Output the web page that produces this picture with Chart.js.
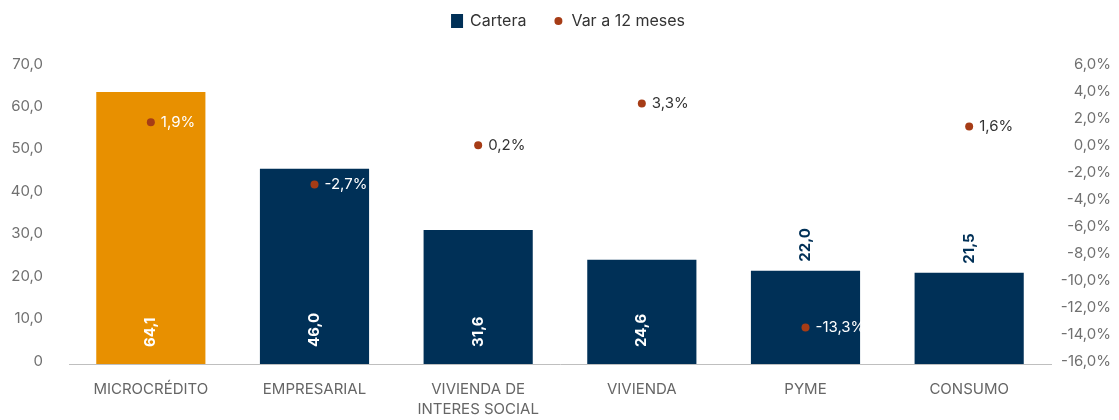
<!DOCTYPE html>
<html>
<head>
<meta charset="utf-8">
<script src="https://cdn.jsdelivr.net/npm/chart.js@4.4.1/dist/chart.umd.min.js"></script>
<style>
html, body { margin: 0; padding: 0; background: #fff; }
</style>
</head>
<body>
<canvas id="carteraChart" width="1119" height="420"></canvas>
<script>
// data
const categories = ["MICROCRÉDITO", "EMPRESARIAL", ["VIVIENDA DE", "INTERES SOCIAL"], "VIVIENDA", "PYME", "CONSUMO"];
const cartera = [64.1, 46.0, 31.6, 24.6, 22.0, 21.5];
const variacion = [1.9, -2.7, 0.2, 3.3, -13.3, 1.6];
const leftTicks = [0, 10, 20, 30, 40, 50, 60, 70];
const rightTicks = [-16, -14, -12, -10, -8, -6, -4, -2, 0, 2, 4, 6];

const NAVY = "#003057";
const ORANGE = "#E89000";
const DOT = "#A63C16";
const FONT = "Inter";

function coma(v, d) {
    return v.toFixed(d).replace(".", ",");
}

/*=========================================
LABELS ON BARS AND DOTS
=========================================*/
const valueLabels = {
    id: "valueLabels",
    afterDatasetsDraw(chart) {
        const ctx = chart.ctx;
        const bars = chart.getDatasetMeta(0).data;
        const dots = chart.getDatasetMeta(1).data;

        ctx.save();
        ctx.font = "bold 15px " + FONT;
        ctx.textBaseline = "middle";
        ctx.textAlign = "left";
        bars.forEach((bar, i) => {
            const inside = (bar.base - bar.y) > 100;
            ctx.save();
            if (inside) {
                ctx.translate(bar.x, bar.base - 17);
                ctx.fillStyle = "#fff";
            } else {
                ctx.translate(bar.x, bar.y - 9);
                ctx.fillStyle = NAVY;
            }
            ctx.rotate(-Math.PI / 2);
            ctx.fillText(coma(cartera[i], 1), 0, 0);
            ctx.restore();
        });

        ctx.font = "15px " + FONT;
        dots.forEach((dot, i) => {
            const onBar = dot.y > bars[i].y;
            ctx.fillStyle = onBar ? "#fff" : "#333";
            ctx.fillText(coma(variacion[i], 1) + "%", dot.x + 10, dot.y);
        });
        ctx.restore();
    }
};

/*=========================================
LEGEND
=========================================*/
const topLegend = {
    id: "topLegend",
    afterDraw(chart) {
        const ctx = chart.ctx;
        const y = 21;
        ctx.save();
        ctx.font = "16px " + FONT;
        ctx.textBaseline = "middle";
        ctx.textAlign = "left";
        const t1 = "Cartera";
        const t2 = "Var a 12 meses";
        const w1 = ctx.measureText(t1).width;
        const w2 = ctx.measureText(t2).width;
        const total = 12 + 7 + w1 + 26 + 12 + 7 + w2;
        let x = 568 - total / 2;

        ctx.fillStyle = NAVY;
        ctx.fillRect(x, y - 7, 12, 14);
        x += 19;
        ctx.fillStyle = "#333";
        ctx.fillText(t1, x, y);
        x += w1 + 26;

        ctx.fillStyle = DOT;
        ctx.beginPath();
        ctx.arc(x + 6, y, 4, 0, Math.PI * 2);
        ctx.fill();
        x += 19;
        ctx.fillStyle = "#333";
        ctx.fillText(t2, x, y);
        ctx.restore();
    }
};

new Chart(document.getElementById("carteraChart"), {
    data: {
        labels: categories,
        datasets: [
            {
                type: "bar",
                label: "Cartera",
                data: cartera,
                backgroundColor: cartera.map((v, i) => i === 0 ? ORANGE : NAVY),
                barPercentage: 0.667,
                categoryPercentage: 1,
                yAxisID: "y",
                order: 1
            },
            {
                type: "line",
                label: "Var a 12 meses",
                data: variacion,
                showLine: false,
                pointRadius: 4,
                pointHoverRadius: 4,
                pointBackgroundColor: DOT,
                pointBorderWidth: 0,
                borderColor: DOT,
                yAxisID: "y1",
                order: 0
            }
        ]
    },
    options: {
        responsive: false,
        animation: false,
        layout: {
            padding: { top: 67, right: 8, bottom: 0, left: 0 }
        },
        plugins: {
            legend: { display: false },
            tooltip: { enabled: false }
        },
        scales: {
            x: {
                grid: { display: false, drawTicks: false },
                border: { display: true, color: "#bfbfbf", width: 1 },
                ticks: {
                    color: "#666",
                    font: { family: FONT, size: 15, lineHeight: 1.3 },
                    padding: 16,
                    maxRotation: 0,
                    autoSkip: false
                },
                afterFit(scale) { scale.height = 56; }
            },
            y: {
                position: "left",
                min: 0,
                max: 70,
                grid: { display: false, drawTicks: false },
                border: { display: false },
                afterBuildTicks(scale) { scale.ticks = leftTicks.map(v => ({ value: v })); },
                ticks: {
                    color: "#707070",
                    font: { family: FONT, size: 15 },
                    padding: 26,
                    labelOffset: -3,
                    callback: v => v === 0 ? "0" : coma(v, 1)
                },
                afterFit(scale) { scale.width = 69; }
            },
            y1: {
                position: "right",
                min: -16,
                max: 6,
                grid: { display: false, drawTicks: false },
                border: { display: false },
                afterBuildTicks(scale) { scale.ticks = rightTicks.map(v => ({ value: v })); },
                ticks: {
                    color: "#707070",
                    font: { family: FONT, size: 15 },
                    crossAlign: "far",
                    labelOffset: -3,
                    callback: v => coma(v, 1) + "%"
                },
                afterFit(scale) { scale.width = 60; }
            }
        }
    },
    plugins: [valueLabels, topLegend]
});
</script>
</body>
</html>
